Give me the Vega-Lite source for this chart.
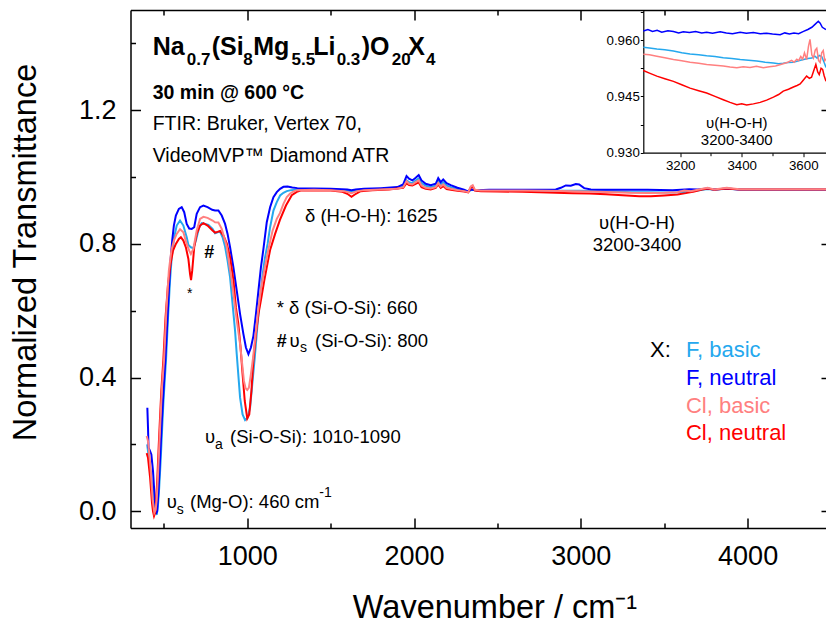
{
  "$schema": "https://vega.github.io/schema/vega-lite/v6.json",
  "width": 695.5,
  "height": 518,
  "autosize": {"type": "none"},
  "padding": {"left": 130.5, "top": 10, "right": 0, "bottom": 96},
  "background": "white",
  "config": {
    "view": {"stroke": null},
    "font": "Liberation Sans",
    "axis": {"grid": false, "labelFont": "Liberation Sans", "titleFont": "Liberation Sans", "labelColor": "black", "titleColor": "black", "tickColor": "black", "domainColor": "black"},
    "text": {"font": "Liberation Sans", "color": "black"}
  },
  "datasets": {
    "spectra": [
      {"s":"Fb","w":400,"t":0.2},{"s":"Fb","w":410,"t":0.16},{"s":"Fb","w":420,"t":0.12},{"s":"Fb","w":430,"t":0.08},{"s":"Fb","w":440,"t":0.04},{"s":"Fb","w":450,"t":0.005},{"s":"Fb","w":457,"t":-0.011},{"s":"Fb","w":465,"t":0.02},{"s":"Fb","w":472,"t":0.07},{"s":"Fb","w":481,"t":0.153},{"s":"Fb","w":490,"t":0.25},{"s":"Fb","w":497,"t":0.323},{"s":"Fb","w":505,"t":0.39},{"s":"Fb","w":513,"t":0.453},{"s":"Fb","w":525,"t":0.58},{"s":"Fb","w":537,"t":0.69},{"s":"Fb","w":547,"t":0.76},{"s":"Fb","w":562,"t":0.82},{"s":"Fb","w":577,"t":0.855},{"s":"Fb","w":597,"t":0.87},{"s":"Fb","w":617,"t":0.855},{"s":"Fb","w":637,"t":0.82},{"s":"Fb","w":647,"t":0.797},{"s":"Fb","w":662,"t":0.79},{"s":"Fb","w":677,"t":0.787},{"s":"Fb","w":692,"t":0.81},{"s":"Fb","w":712,"t":0.85},{"s":"Fb","w":727,"t":0.862},{"s":"Fb","w":747,"t":0.86},{"s":"Fb","w":767,"t":0.857},{"s":"Fb","w":792,"t":0.845},{"s":"Fb","w":807,"t":0.832},{"s":"Fb","w":822,"t":0.835},{"s":"Fb","w":837,"t":0.837},{"s":"Fb","w":852,"t":0.82},{"s":"Fb","w":867,"t":0.792},{"s":"Fb","w":882,"t":0.75},{"s":"Fb","w":897,"t":0.7},{"s":"Fb","w":912,"t":0.62},{"s":"Fb","w":927,"t":0.54},{"s":"Fb","w":937,"t":0.47},{"s":"Fb","w":957,"t":0.34},{"s":"Fb","w":972,"t":0.29},{"s":"Fb","w":987,"t":0.273},{"s":"Fb","w":1002,"t":0.28},{"s":"Fb","w":1017,"t":0.31},{"s":"Fb","w":1030,"t":0.38},{"s":"Fb","w":1045,"t":0.46},{"s":"Fb","w":1060,"t":0.55},{"s":"Fb","w":1075,"t":0.63},{"s":"Fb","w":1090,"t":0.7},{"s":"Fb","w":1105,"t":0.755},{"s":"Fb","w":1122,"t":0.8},{"s":"Fb","w":1137,"t":0.85},{"s":"Fb","w":1157,"t":0.9},{"s":"Fb","w":1177,"t":0.925},{"s":"Fb","w":1197,"t":0.945},{"s":"Fb","w":1217,"t":0.953},{"s":"Fb","w":1237,"t":0.958},{"s":"Fb","w":1262,"t":0.961},{"s":"Fb","w":1300,"t":0.962},{"s":"Fb","w":1400,"t":0.963},{"s":"Fb","w":1500,"t":0.963},{"s":"Fb","w":1600,"t":0.96},{"s":"Fb","w":1625,"t":0.957},{"s":"Fb","w":1650,"t":0.96},{"s":"Fb","w":1700,"t":0.962},{"s":"Fb","w":1800,"t":0.964},{"s":"Fb","w":1900,"t":0.966},{"s":"Fb","w":1935,"t":0.972},{"s":"Fb","w":1955,"t":0.99},{"s":"Fb","w":1970,"t":0.985},{"s":"Fb","w":1990,"t":0.982},{"s":"Fb","w":2010,"t":0.99},{"s":"Fb","w":2028,"t":0.996},{"s":"Fb","w":2045,"t":0.982},{"s":"Fb","w":2070,"t":0.974},{"s":"Fb","w":2100,"t":0.97},{"s":"Fb","w":2130,"t":0.974},{"s":"Fb","w":2145,"t":0.988},{"s":"Fb","w":2160,"t":0.978},{"s":"Fb","w":2175,"t":0.985},{"s":"Fb","w":2195,"t":0.975},{"s":"Fb","w":2220,"t":0.97},{"s":"Fb","w":2260,"t":0.964},{"s":"Fb","w":2300,"t":0.96},{"s":"Fb","w":2320,"t":0.956},{"s":"Fb","w":2345,"t":0.962},{"s":"Fb","w":2380,"t":0.96},{"s":"Fb","w":2450,"t":0.96},{"s":"Fb","w":2600,"t":0.96},{"s":"Fb","w":2750,"t":0.96},{"s":"Fb","w":2900,"t":0.959},{"s":"Fb","w":3000,"t":0.959},{"s":"Fb","w":3100,"t":0.958},{"s":"Fb","w":3200,"t":0.957},{"s":"Fb","w":3300,"t":0.955},{"s":"Fb","w":3400,"t":0.9545},{"s":"Fb","w":3500,"t":0.954},{"s":"Fb","w":3600,"t":0.9548},{"s":"Fb","w":3650,"t":0.956},{"s":"Fb","w":3700,"t":0.96},{"s":"Fb","w":3760,"t":0.964},{"s":"Fb","w":3800,"t":0.962},{"s":"Fb","w":3875,"t":0.965},{"s":"Fb","w":3950,"t":0.963},{"s":"Fb","w":4100,"t":0.963},{"s":"Fb","w":4300,"t":0.963},{"s":"Fb","w":4470,"t":0.963},

      {"s":"Fn","w":401,"t":0.31},{"s":"Fn","w":405,"t":0.25},{"s":"Fn","w":408,"t":0.19},{"s":"Fn","w":415,"t":0.183},{"s":"Fn","w":425,"t":0.17},{"s":"Fn","w":435,"t":0.12},{"s":"Fn","w":445,"t":0.04},{"s":"Fn","w":453,"t":-0.008},{"s":"Fn","w":460,"t":0.0},{"s":"Fn","w":468,"t":0.06},{"s":"Fn","w":477,"t":0.153},{"s":"Fn","w":487,"t":0.26},{"s":"Fn","w":497,"t":0.353},{"s":"Fn","w":509,"t":0.453},{"s":"Fn","w":520,"t":0.56},{"s":"Fn","w":530,"t":0.66},{"s":"Fn","w":540,"t":0.75},{"s":"Fn","w":550,"t":0.81},{"s":"Fn","w":560,"t":0.855},{"s":"Fn","w":572,"t":0.885},{"s":"Fn","w":590,"t":0.905},{"s":"Fn","w":607,"t":0.91},{"s":"Fn","w":622,"t":0.895},{"s":"Fn","w":637,"t":0.86},{"s":"Fn","w":652,"t":0.846},{"s":"Fn","w":667,"t":0.845},{"s":"Fn","w":682,"t":0.85},{"s":"Fn","w":697,"t":0.89},{"s":"Fn","w":717,"t":0.91},{"s":"Fn","w":737,"t":0.915},{"s":"Fn","w":762,"t":0.91},{"s":"Fn","w":790,"t":0.902},{"s":"Fn","w":807,"t":0.9},{"s":"Fn","w":827,"t":0.9},{"s":"Fn","w":847,"t":0.885},{"s":"Fn","w":867,"t":0.86},{"s":"Fn","w":882,"t":0.83},{"s":"Fn","w":897,"t":0.79},{"s":"Fn","w":917,"t":0.73},{"s":"Fn","w":937,"t":0.66},{"s":"Fn","w":957,"t":0.59},{"s":"Fn","w":977,"t":0.53},{"s":"Fn","w":992,"t":0.49},{"s":"Fn","w":1007,"t":0.47},{"s":"Fn","w":1022,"t":0.49},{"s":"Fn","w":1037,"t":0.525},{"s":"Fn","w":1052,"t":0.59},{"s":"Fn","w":1067,"t":0.66},{"s":"Fn","w":1082,"t":0.73},{"s":"Fn","w":1097,"t":0.785},{"s":"Fn","w":1117,"t":0.865},{"s":"Fn","w":1137,"t":0.91},{"s":"Fn","w":1157,"t":0.94},{"s":"Fn","w":1177,"t":0.955},{"s":"Fn","w":1197,"t":0.965},{"s":"Fn","w":1217,"t":0.971},{"s":"Fn","w":1242,"t":0.972},{"s":"Fn","w":1270,"t":0.969},{"s":"Fn","w":1300,"t":0.967},{"s":"Fn","w":1350,"t":0.966},{"s":"Fn","w":1400,"t":0.966},{"s":"Fn","w":1500,"t":0.965},{"s":"Fn","w":1600,"t":0.963},{"s":"Fn","w":1625,"t":0.961},{"s":"Fn","w":1650,"t":0.963},{"s":"Fn","w":1700,"t":0.965},{"s":"Fn","w":1800,"t":0.967},{"s":"Fn","w":1900,"t":0.97},{"s":"Fn","w":1935,"t":0.978},{"s":"Fn","w":1955,"t":1.003},{"s":"Fn","w":1970,"t":0.995},{"s":"Fn","w":1990,"t":0.99},{"s":"Fn","w":2010,"t":0.998},{"s":"Fn","w":2028,"t":1.006},{"s":"Fn","w":2045,"t":0.99},{"s":"Fn","w":2070,"t":0.98},{"s":"Fn","w":2100,"t":0.976},{"s":"Fn","w":2130,"t":0.98},{"s":"Fn","w":2145,"t":0.997},{"s":"Fn","w":2160,"t":0.985},{"s":"Fn","w":2175,"t":0.993},{"s":"Fn","w":2195,"t":0.982},{"s":"Fn","w":2220,"t":0.976},{"s":"Fn","w":2260,"t":0.968},{"s":"Fn","w":2300,"t":0.962},{"s":"Fn","w":2320,"t":0.958},{"s":"Fn","w":2345,"t":0.963},{"s":"Fn","w":2380,"t":0.961},{"s":"Fn","w":2450,"t":0.962},{"s":"Fn","w":2600,"t":0.962},{"s":"Fn","w":2750,"t":0.962},{"s":"Fn","w":2850,"t":0.963},{"s":"Fn","w":2880,"t":0.968},{"s":"Fn","w":2910,"t":0.975},{"s":"Fn","w":2940,"t":0.974},{"s":"Fn","w":2970,"t":0.979},{"s":"Fn","w":2990,"t":0.978},{"s":"Fn","w":3020,"t":0.967},{"s":"Fn","w":3060,"t":0.963},{"s":"Fn","w":3100,"t":0.962},{"s":"Fn","w":3250,"t":0.962},{"s":"Fn","w":3400,"t":0.962},{"s":"Fn","w":3550,"t":0.961},{"s":"Fn","w":3650,"t":0.964},{"s":"Fn","w":3700,"t":0.963},{"s":"Fn","w":3760,"t":0.966},{"s":"Fn","w":3800,"t":0.963},{"s":"Fn","w":3875,"t":0.966},{"s":"Fn","w":3950,"t":0.963},{"s":"Fn","w":4100,"t":0.963},{"s":"Fn","w":4300,"t":0.963},{"s":"Fn","w":4470,"t":0.963},

      {"s":"Cn","w":397,"t":0.174},{"s":"Cn","w":405,"t":0.16},{"s":"Cn","w":417,"t":0.104},{"s":"Cn","w":429,"t":0.024},{"s":"Cn","w":435,"t":0.0},{"s":"Cn","w":441,"t":-0.014},{"s":"Cn","w":447,"t":-0.005},{"s":"Cn","w":453,"t":0.024},{"s":"Cn","w":461,"t":0.1},{"s":"Cn","w":469,"t":0.194},{"s":"Cn","w":477,"t":0.28},{"s":"Cn","w":485,"t":0.363},{"s":"Cn","w":497,"t":0.453},{"s":"Cn","w":510,"t":0.58},{"s":"Cn","w":525,"t":0.68},{"s":"Cn","w":540,"t":0.74},{"s":"Cn","w":555,"t":0.78},{"s":"Cn","w":572,"t":0.8},{"s":"Cn","w":590,"t":0.815},{"s":"Cn","w":602,"t":0.82},{"s":"Cn","w":617,"t":0.81},{"s":"Cn","w":632,"t":0.79},{"s":"Cn","w":647,"t":0.755},{"s":"Cn","w":657,"t":0.71},{"s":"Cn","w":663,"t":0.692},{"s":"Cn","w":670,"t":0.72},{"s":"Cn","w":682,"t":0.79},{"s":"Cn","w":697,"t":0.83},{"s":"Cn","w":717,"t":0.855},{"s":"Cn","w":737,"t":0.862},{"s":"Cn","w":762,"t":0.855},{"s":"Cn","w":792,"t":0.84},{"s":"Cn","w":807,"t":0.834},{"s":"Cn","w":822,"t":0.836},{"s":"Cn","w":837,"t":0.839},{"s":"Cn","w":857,"t":0.825},{"s":"Cn","w":877,"t":0.802},{"s":"Cn","w":897,"t":0.76},{"s":"Cn","w":917,"t":0.692},{"s":"Cn","w":932,"t":0.61},{"s":"Cn","w":946,"t":0.563},{"s":"Cn","w":960,"t":0.49},{"s":"Cn","w":972,"t":0.41},{"s":"Cn","w":985,"t":0.33},{"s":"Cn","w":1000,"t":0.278},{"s":"Cn","w":1012,"t":0.29},{"s":"Cn","w":1025,"t":0.36},{"s":"Cn","w":1037,"t":0.453},{"s":"Cn","w":1052,"t":0.53},{"s":"Cn","w":1067,"t":0.59},{"s":"Cn","w":1085,"t":0.64},{"s":"Cn","w":1102,"t":0.69},{"s":"Cn","w":1117,"t":0.73},{"s":"Cn","w":1137,"t":0.782},{"s":"Cn","w":1167,"t":0.83},{"s":"Cn","w":1196,"t":0.872},{"s":"Cn","w":1232,"t":0.915},{"s":"Cn","w":1267,"t":0.946},{"s":"Cn","w":1297,"t":0.956},{"s":"Cn","w":1320,"t":0.96},{"s":"Cn","w":1400,"t":0.961},{"s":"Cn","w":1500,"t":0.96},{"s":"Cn","w":1570,"t":0.956},{"s":"Cn","w":1600,"t":0.95},{"s":"Cn","w":1625,"t":0.941},{"s":"Cn","w":1645,"t":0.948},{"s":"Cn","w":1680,"t":0.958},{"s":"Cn","w":1750,"t":0.961},{"s":"Cn","w":1850,"t":0.963},{"s":"Cn","w":1935,"t":0.968},{"s":"Cn","w":1955,"t":0.982},{"s":"Cn","w":1970,"t":0.976},{"s":"Cn","w":1990,"t":0.975},{"s":"Cn","w":2010,"t":0.98},{"s":"Cn","w":2028,"t":0.984},{"s":"Cn","w":2045,"t":0.97},{"s":"Cn","w":2070,"t":0.965},{"s":"Cn","w":2100,"t":0.963},{"s":"Cn","w":2130,"t":0.968},{"s":"Cn","w":2145,"t":0.978},{"s":"Cn","w":2160,"t":0.968},{"s":"Cn","w":2175,"t":0.973},{"s":"Cn","w":2195,"t":0.964},{"s":"Cn","w":2220,"t":0.962},{"s":"Cn","w":2260,"t":0.959},{"s":"Cn","w":2300,"t":0.957},{"s":"Cn","w":2325,"t":0.954},{"s":"Cn","w":2340,"t":0.968},{"s":"Cn","w":2352,"t":0.972},{"s":"Cn","w":2365,"t":0.96},{"s":"Cn","w":2400,"t":0.958},{"s":"Cn","w":2500,"t":0.957},{"s":"Cn","w":2650,"t":0.956},{"s":"Cn","w":2800,"t":0.954},{"s":"Cn","w":2950,"t":0.952},{"s":"Cn","w":3050,"t":0.951},{"s":"Cn","w":3150,"t":0.949},{"s":"Cn","w":3250,"t":0.946},{"s":"Cn","w":3350,"t":0.943},{"s":"Cn","w":3420,"t":0.9425},{"s":"Cn","w":3500,"t":0.945},{"s":"Cn","w":3580,"t":0.948},{"s":"Cn","w":3630,"t":0.952},{"s":"Cn","w":3680,"t":0.957},{"s":"Cn","w":3720,"t":0.962},{"s":"Cn","w":3760,"t":0.966},{"s":"Cn","w":3800,"t":0.962},{"s":"Cn","w":3875,"t":0.966},{"s":"Cn","w":3950,"t":0.963},{"s":"Cn","w":4100,"t":0.963},{"s":"Cn","w":4300,"t":0.963},{"s":"Cn","w":4470,"t":0.963},

      {"s":"Cb","w":397,"t":0.225},{"s":"Cb","w":405,"t":0.21},{"s":"Cb","w":413,"t":0.17},{"s":"Cb","w":421,"t":0.124},{"s":"Cb","w":433,"t":0.034},{"s":"Cb","w":443,"t":-0.004},{"s":"Cb","w":451,"t":0.005},{"s":"Cb","w":457,"t":0.034},{"s":"Cb","w":465,"t":0.11},{"s":"Cb","w":473,"t":0.204},{"s":"Cb","w":481,"t":0.29},{"s":"Cb","w":489,"t":0.373},{"s":"Cb","w":501,"t":0.453},{"s":"Cb","w":515,"t":0.6},{"s":"Cb","w":530,"t":0.72},{"s":"Cb","w":545,"t":0.78},{"s":"Cb","w":560,"t":0.81},{"s":"Cb","w":577,"t":0.83},{"s":"Cb","w":597,"t":0.844},{"s":"Cb","w":617,"t":0.835},{"s":"Cb","w":637,"t":0.8},{"s":"Cb","w":652,"t":0.78},{"s":"Cb","w":662,"t":0.77},{"s":"Cb","w":677,"t":0.785},{"s":"Cb","w":697,"t":0.84},{"s":"Cb","w":717,"t":0.875},{"s":"Cb","w":737,"t":0.881},{"s":"Cb","w":762,"t":0.878},{"s":"Cb","w":792,"t":0.87},{"s":"Cb","w":807,"t":0.865},{"s":"Cb","w":827,"t":0.864},{"s":"Cb","w":847,"t":0.845},{"s":"Cb","w":867,"t":0.81},{"s":"Cb","w":877,"t":0.792},{"s":"Cb","w":892,"t":0.74},{"s":"Cb","w":907,"t":0.692},{"s":"Cb","w":922,"t":0.63},{"s":"Cb","w":937,"t":0.572},{"s":"Cb","w":957,"t":0.5},{"s":"Cb","w":967,"t":0.453},{"s":"Cb","w":980,"t":0.39},{"s":"Cb","w":990,"t":0.368},{"s":"Cb","w":1000,"t":0.363},{"s":"Cb","w":1010,"t":0.37},{"s":"Cb","w":1022,"t":0.41},{"s":"Cb","w":1035,"t":0.46},{"s":"Cb","w":1050,"t":0.53},{"s":"Cb","w":1065,"t":0.6},{"s":"Cb","w":1082,"t":0.665},{"s":"Cb","w":1102,"t":0.72},{"s":"Cb","w":1126,"t":0.782},{"s":"Cb","w":1152,"t":0.84},{"s":"Cb","w":1177,"t":0.875},{"s":"Cb","w":1196,"t":0.892},{"s":"Cb","w":1217,"t":0.92},{"s":"Cb","w":1237,"t":0.94},{"s":"Cb","w":1257,"t":0.951},{"s":"Cb","w":1282,"t":0.958},{"s":"Cb","w":1300,"t":0.961},{"s":"Cb","w":1400,"t":0.962},{"s":"Cb","w":1500,"t":0.961},{"s":"Cb","w":1580,"t":0.958},{"s":"Cb","w":1625,"t":0.952},{"s":"Cb","w":1660,"t":0.958},{"s":"Cb","w":1700,"t":0.961},{"s":"Cb","w":1800,"t":0.963},{"s":"Cb","w":1900,"t":0.965},{"s":"Cb","w":1935,"t":0.97},{"s":"Cb","w":1955,"t":0.988},{"s":"Cb","w":1970,"t":0.98},{"s":"Cb","w":1990,"t":0.978},{"s":"Cb","w":2010,"t":0.985},{"s":"Cb","w":2028,"t":0.99},{"s":"Cb","w":2045,"t":0.975},{"s":"Cb","w":2070,"t":0.968},{"s":"Cb","w":2100,"t":0.966},{"s":"Cb","w":2130,"t":0.97},{"s":"Cb","w":2145,"t":0.982},{"s":"Cb","w":2160,"t":0.972},{"s":"Cb","w":2175,"t":0.978},{"s":"Cb","w":2195,"t":0.968},{"s":"Cb","w":2220,"t":0.965},{"s":"Cb","w":2260,"t":0.961},{"s":"Cb","w":2300,"t":0.958},{"s":"Cb","w":2325,"t":0.955},{"s":"Cb","w":2340,"t":0.972},{"s":"Cb","w":2352,"t":0.976},{"s":"Cb","w":2365,"t":0.962},{"s":"Cb","w":2400,"t":0.96},{"s":"Cb","w":2500,"t":0.96},{"s":"Cb","w":2650,"t":0.96},{"s":"Cb","w":2800,"t":0.959},{"s":"Cb","w":2950,"t":0.958},{"s":"Cb","w":3100,"t":0.956},{"s":"Cb","w":3200,"t":0.955},{"s":"Cb","w":3300,"t":0.953},{"s":"Cb","w":3400,"t":0.9527},{"s":"Cb","w":3500,"t":0.953},{"s":"Cb","w":3580,"t":0.955},{"s":"Cb","w":3620,"t":0.96},{"s":"Cb","w":3660,"t":0.958},{"s":"Cb","w":3700,"t":0.962},{"s":"Cb","w":3760,"t":0.968},{"s":"Cb","w":3800,"t":0.963},{"s":"Cb","w":3875,"t":0.968},{"s":"Cb","w":3950,"t":0.964},{"s":"Cb","w":4100,"t":0.964},{"s":"Cb","w":4300,"t":0.964},{"s":"Cb","w":4470,"t":0.964}
    ],
    "inset": [
      {"s":"Fb","w":3080,"t":0.9581},{"s":"Fb","w":3100,"t":0.9579},{"s":"Fb","w":3124,"t":0.9576},{"s":"Fb","w":3150,"t":0.9574},{"s":"Fb","w":3178,"t":0.9571},{"s":"Fb","w":3205,"t":0.9566},{"s":"Fb","w":3232,"t":0.9563},{"s":"Fb","w":3260,"t":0.9561},{"s":"Fb","w":3286,"t":0.9558},{"s":"Fb","w":3313,"t":0.9556},{"s":"Fb","w":3340,"t":0.9553},{"s":"Fb","w":3368,"t":0.9551},{"s":"Fb","w":3395,"t":0.9548},{"s":"Fb","w":3422,"t":0.9546},{"s":"Fb","w":3449,"t":0.9544},{"s":"Fb","w":3476,"t":0.9541},{"s":"Fb","w":3503,"t":0.9539},{"s":"Fb","w":3520,"t":0.9537},{"s":"Fb","w":3535,"t":0.9538},{"s":"Fb","w":3550,"t":0.954},{"s":"Fb","w":3568,"t":0.9541},{"s":"Fb","w":3585,"t":0.9545},{"s":"Fb","w":3601,"t":0.9548},{"s":"Fb","w":3615,"t":0.9551},{"s":"Fb","w":3628,"t":0.9552},{"s":"Fb","w":3638,"t":0.9557},{"s":"Fb","w":3645,"t":0.9552},{"s":"Fb","w":3652,"t":0.9559},{"s":"Fb","w":3660,"t":0.9556},{"s":"Fb","w":3668,"t":0.954},{"s":"Fb","w":3674,"t":0.9527},
      {"s":"Fn","w":3080,"t":0.9624},{"s":"Fn","w":3095,"t":0.9628},{"s":"Fn","w":3110,"t":0.9623},{"s":"Fn","w":3125,"t":0.9626},{"s":"Fn","w":3140,"t":0.9621},{"s":"Fn","w":3160,"t":0.9625},{"s":"Fn","w":3178,"t":0.9623},{"s":"Fn","w":3195,"t":0.9619},{"s":"Fn","w":3210,"t":0.9622},{"s":"Fn","w":3230,"t":0.962},{"s":"Fn","w":3250,"t":0.9623},{"s":"Fn","w":3270,"t":0.9619},{"s":"Fn","w":3286,"t":0.9621},{"s":"Fn","w":3305,"t":0.9618},{"s":"Fn","w":3330,"t":0.9622},{"s":"Fn","w":3350,"t":0.9619},{"s":"Fn","w":3370,"t":0.9617},{"s":"Fn","w":3395,"t":0.9621},{"s":"Fn","w":3415,"t":0.9618},{"s":"Fn","w":3438,"t":0.962},{"s":"Fn","w":3460,"t":0.9617},{"s":"Fn","w":3481,"t":0.9618},{"s":"Fn","w":3500,"t":0.9616},{"s":"Fn","w":3525,"t":0.9614},{"s":"Fn","w":3540,"t":0.9619},{"s":"Fn","w":3555,"t":0.9616},{"s":"Fn","w":3570,"t":0.9619},{"s":"Fn","w":3585,"t":0.9617},{"s":"Fn","w":3601,"t":0.9623},{"s":"Fn","w":3615,"t":0.9628},{"s":"Fn","w":3628,"t":0.9634},{"s":"Fn","w":3640,"t":0.9643},{"s":"Fn","w":3649,"t":0.965},{"s":"Fn","w":3655,"t":0.9645},{"s":"Fn","w":3662,"t":0.9634},{"s":"Fn","w":3674,"t":0.9628},
      {"s":"Cn","w":3080,"t":0.9519},{"s":"Cn","w":3100,"t":0.9512},{"s":"Cn","w":3124,"t":0.9504},{"s":"Cn","w":3150,"t":0.9497},{"s":"Cn","w":3178,"t":0.949},{"s":"Cn","w":3205,"t":0.9481},{"s":"Cn","w":3232,"t":0.9472},{"s":"Cn","w":3260,"t":0.9465},{"s":"Cn","w":3286,"t":0.9459},{"s":"Cn","w":3313,"t":0.945},{"s":"Cn","w":3340,"t":0.9441},{"s":"Cn","w":3362,"t":0.9434},{"s":"Cn","w":3384,"t":0.9428},{"s":"Cn","w":3400,"t":0.943},{"s":"Cn","w":3416,"t":0.9427},{"s":"Cn","w":3438,"t":0.943},{"s":"Cn","w":3460,"t":0.9434},{"s":"Cn","w":3481,"t":0.944},{"s":"Cn","w":3503,"t":0.9448},{"s":"Cn","w":3520,"t":0.9455},{"s":"Cn","w":3535,"t":0.9464},{"s":"Cn","w":3552,"t":0.9469},{"s":"Cn","w":3568,"t":0.9475},{"s":"Cn","w":3580,"t":0.9479},{"s":"Cn","w":3590,"t":0.9483},{"s":"Cn","w":3600,"t":0.9493},{"s":"Cn","w":3611,"t":0.9504},{"s":"Cn","w":3620,"t":0.9498},{"s":"Cn","w":3627,"t":0.9501},{"s":"Cn","w":3634,"t":0.9518},{"s":"Cn","w":3641,"t":0.9535},{"s":"Cn","w":3647,"t":0.9515},{"s":"Cn","w":3652,"t":0.9508},{"s":"Cn","w":3658,"t":0.9525},{"s":"Cn","w":3663,"t":0.9522},{"s":"Cn","w":3668,"t":0.9505},{"s":"Cn","w":3674,"t":0.949},
      {"s":"Cb","w":3080,"t":0.9562},{"s":"Cb","w":3100,"t":0.9561},{"s":"Cb","w":3124,"t":0.9557},{"s":"Cb","w":3150,"t":0.9553},{"s":"Cb","w":3178,"t":0.9548},{"s":"Cb","w":3205,"t":0.9545},{"s":"Cb","w":3232,"t":0.9541},{"s":"Cb","w":3260,"t":0.9538},{"s":"Cb","w":3286,"t":0.9535},{"s":"Cb","w":3313,"t":0.9533},{"s":"Cb","w":3340,"t":0.9531},{"s":"Cb","w":3362,"t":0.9528},{"s":"Cb","w":3384,"t":0.9526},{"s":"Cb","w":3405,"t":0.9529},{"s":"Cb","w":3427,"t":0.9527},{"s":"Cb","w":3448,"t":0.953},{"s":"Cb","w":3470,"t":0.9526},{"s":"Cb","w":3490,"t":0.9529},{"s":"Cb","w":3510,"t":0.9531},{"s":"Cb","w":3535,"t":0.9537},{"s":"Cb","w":3550,"t":0.9541},{"s":"Cb","w":3562,"t":0.9546},{"s":"Cb","w":3570,"t":0.9541},{"s":"Cb","w":3579,"t":0.9549},{"s":"Cb","w":3585,"t":0.9545},{"s":"Cb","w":3592,"t":0.9556},{"s":"Cb","w":3598,"t":0.9549},{"s":"Cb","w":3604,"t":0.9566},{"s":"Cb","w":3611,"t":0.9548},{"s":"Cb","w":3617,"t":0.9583},{"s":"Cb","w":3622,"t":0.9602},{"s":"Cb","w":3628,"t":0.956},{"s":"Cb","w":3633,"t":0.9552},{"s":"Cb","w":3639,"t":0.9573},{"s":"Cb","w":3644,"t":0.9578},{"s":"Cb","w":3650,"t":0.9545},{"s":"Cb","w":3655,"t":0.954},{"s":"Cb","w":3660,"t":0.9566},{"s":"Cb","w":3665,"t":0.9572},{"s":"Cb","w":3670,"t":0.9545},{"s":"Cb","w":3674,"t":0.955}
    ]
  },
  "layer": [
    {
      "layer": [
        {
          "data": {"name": "spectra"},
          "mark": {"type": "line", "strokeWidth": 2},
          "encoding": {
            "x": {"field": "w", "type": "quantitative", "scale": {"domain": [300, 4470], "nice": false, "zero": false},
              "axis": {"orient": "bottom", "values": [1000, 2000, 3000, 4000], "format": "d", "tickSize": -10, "tickWidth": 1.5, "domainWidth": 1.5, "labelFontSize": 27, "labelPadding": 25, "labelFlush": false, "labelOverlap": false,
                "title": "Wavenumber / cm⁻¹", "titleFontSize": 32.5, "titleFontWeight": "normal", "titleX": 364, "titleY": 89, "titleAlign": "center", "titleBaseline": "alphabetic"}},
            "y": {"field": "t", "type": "quantitative", "scale": {"domain": [-0.05, 1.5], "nice": false, "zero": false},
              "axis": {"orient": "left", "values": [0, 0.4, 0.8, 1.2], "format": ".1f", "tickSize": -10, "tickWidth": 1.5, "domainWidth": 1.5, "labelFontSize": 27, "labelPadding": 24.5, "labelFlush": false, "labelOverlap": false,
                "title": "Normalized Transmittance", "titleFontSize": 32.5, "titleFontWeight": "normal", "titleX": -95.5, "titleY": 242, "titleAngle": -90, "titleAlign": "center", "titleBaseline": "alphabetic"}},
            "color": {"field": "s", "type": "nominal", "scale": {"domain": ["Fb", "Fn", "Cb", "Cn", "X"], "range": ["#25a8ee", "#0000ff", "#ff8080", "#ff0000", "#000000"]}, "legend": null}
          }
        },
        {
          "data": {"values": [
            {"label": "δ (H-O-H): 1625", "w": 1346, "t": 0.8665},
            {"label": "* δ (Si-O-Si): 660", "w": 1176.6, "t": 0.5894},
            {"label": "υ", "w": 1253, "t": 0.4925},
            {"label": "(Si-O-Si): 800", "w": 1406.2, "t": 0.4925},
            {"label": "υ", "w": 746.7, "t": 0.2052},
            {"label": "(Si-O-Si): 1010-1090", "w": 896.6, "t": 0.2052},
            {"label": "υ", "w": 517, "t": 0.0089},
            {"label": "(Mg-O): 460 cm", "w": 656.7, "t": 0.0089}
          ]},
          "mark": {"type": "text", "align": "left", "baseline": "alphabetic", "fontSize": 18.5},
          "encoding": {
            "x": {"field": "w", "type": "quantitative", "scale": {"domain": [300, 4470], "nice": false, "zero": false},
              "axis": {"orient": "bottom", "values": [500, 1500, 2500, 3500], "tickSize": -5, "tickWidth": 1.5, "domain": false, "labels": false, "title": null}},
            "y": {"field": "t", "type": "quantitative", "scale": {"domain": [-0.05, 1.5], "nice": false, "zero": false},
              "axis": {"orient": "left", "values": [0.2, 0.6, 1.0, 1.4], "tickSize": -5, "tickWidth": 1.5, "domain": false, "labels": false, "title": null}},
            "text": {"field": "label"}
          }
        },
        {
          "data": {"values": [
            {"label": "FTIR: Bruker, Vertex 70,", "w": 433, "t": 1.1409},
            {"label": "VideoMVP™ Diamond ATR", "w": 433, "t": 1.0461}
          ]},
          "mark": {"type": "text", "align": "left", "baseline": "alphabetic", "fontSize": 19.5},
          "encoding": {
            "x": {"field": "w", "type": "quantitative", "scale": {"domain": [300, 4470], "nice": false, "zero": false},
              "axis": {"orient": "top", "values": [1000, 2000, 3000, 4000], "tickSize": -10, "tickWidth": 1.5, "domainWidth": 1.5, "labels": false, "title": null}},
            "y": {"field": "t", "type": "quantitative", "scale": {"domain": [-0.05, 1.5], "nice": false, "zero": false},
              "axis": {"orient": "right", "values": [0, 0.4, 0.8, 1.2], "tickSize": -5, "tickWidth": 1.5, "domain": false, "labels": false, "title": null}},
            "text": {"field": "label"}
          }
        },
        {
          "data": {"values": [
            {"label": "s", "w": 1316, "t": 0.4775},
            {"label": "a", "w": 806.6, "t": 0.1855},
            {"label": "s", "w": 577, "t": -0.0081},
            {"label": "-1", "w": 1432, "t": 0.0436},
            {"label": "*", "w": 638.7, "t": 0.6382}
          ]},
          "mark": {"type": "text", "align": "left", "baseline": "alphabetic", "fontSize": 14},
          "encoding": {
            "x": {"field": "w", "type": "quantitative", "scale": {"domain": [300, 4470], "nice": false, "zero": false},
              "axis": {"orient": "top", "values": [500, 1500, 2500, 3500], "tickSize": -5, "tickWidth": 1.5, "domain": false, "labels": false, "title": null}},
            "y": {"field": "t", "type": "quantitative", "scale": {"domain": [-0.05, 1.5], "nice": false, "zero": false}, "axis": null},
            "text": {"field": "label"}
          }
        },
        {
          "data": {"values": [
            {"label": "υ(H-O-H)", "w": 3337, "t": 0.8626},
            {"label": "3200-3400", "w": 3337, "t": 0.7968}
          ]},
          "mark": {"type": "text", "align": "center", "baseline": "middle", "fontSize": 18.5},
          "encoding": {
            "x": {"field": "w", "type": "quantitative", "scale": {"domain": [300, 4470], "nice": false, "zero": false}, "axis": null},
            "y": {"field": "t", "type": "quantitative", "scale": {"domain": [-0.05, 1.5], "nice": false, "zero": false}, "axis": null},
            "text": {"field": "label"}
          }
        },
        {
          "data": {"values": [
            {"label": "30 min @ 600 °C", "w": 433, "t": 1.2328}
          ]},
          "mark": {"type": "text", "align": "left", "baseline": "alphabetic", "fontSize": 19.5, "fontWeight": "bold"},
          "encoding": {
            "x": {"field": "w", "type": "quantitative", "scale": {"domain": [300, 4470], "nice": false, "zero": false}, "axis": null},
            "y": {"field": "t", "type": "quantitative", "scale": {"domain": [-0.05, 1.5], "nice": false, "zero": false}, "axis": null},
            "text": {"field": "label"}
          }
        },
        {
          "data": {"values": [
            {"label": "#", "w": 1176.6, "t": 0.4925},
            {"label": "#", "w": 742.5, "t": 0.7573}
          ]},
          "mark": {"type": "text", "align": "left", "baseline": "alphabetic", "fontSize": 18, "fontWeight": "bold"},
          "encoding": {
            "x": {"field": "w", "type": "quantitative", "scale": {"domain": [300, 4470], "nice": false, "zero": false}, "axis": null},
            "y": {"field": "t", "type": "quantitative", "scale": {"domain": [-0.05, 1.5], "nice": false, "zero": false}, "axis": null},
            "text": {"field": "label"}
          }
        },
        {
          "data": {"values": [
            {"label": "Na", "w": 433, "t": 1.3653},
            {"label": "(Si", "w": 787, "t": 1.3653},
            {"label": "Mg", "w": 1036, "t": 1.3653},
            {"label": "Li", "w": 1396, "t": 1.3653},
            {"label": ")O", "w": 1686, "t": 1.3653},
            {"label": "X", "w": 1966, "t": 1.3653}
          ]},
          "mark": {"type": "text", "align": "left", "baseline": "alphabetic", "fontSize": 25, "fontWeight": "bold"},
          "encoding": {
            "x": {"field": "w", "type": "quantitative", "scale": {"domain": [300, 4470], "nice": false, "zero": false}, "axis": null},
            "y": {"field": "t", "type": "quantitative", "scale": {"domain": [-0.05, 1.5], "nice": false, "zero": false}, "axis": null},
            "text": {"field": "label"}
          }
        },
        {
          "data": {"values": [
            {"label": "0.7", "w": 637, "t": 1.3354},
            {"label": "8", "w": 976, "t": 1.3354},
            {"label": "5.5", "w": 1266, "t": 1.3354},
            {"label": "0.3", "w": 1536, "t": 1.3354},
            {"label": "20", "w": 1866, "t": 1.3354},
            {"label": "4", "w": 2072, "t": 1.3354}
          ]},
          "mark": {"type": "text", "align": "left", "baseline": "alphabetic", "fontSize": 17, "fontWeight": "bold"},
          "encoding": {
            "x": {"field": "w", "type": "quantitative", "scale": {"domain": [300, 4470], "nice": false, "zero": false}, "axis": null},
            "y": {"field": "t", "type": "quantitative", "scale": {"domain": [-0.05, 1.5], "nice": false, "zero": false}, "axis": null},
            "text": {"field": "label"}
          }
        },
        {
          "data": {"values": [
            {"label": "X:", "s": "X", "w": 3414.7, "t": 0.4626},
            {"label": "F, basic", "s": "Fb", "w": 3630.5, "t": 0.4626},
            {"label": "F, neutral", "s": "Fn", "w": 3630.5, "t": 0.3779},
            {"label": "Cl, basic", "s": "Cb", "w": 3630.5, "t": 0.295},
            {"label": "Cl, neutral", "s": "Cn", "w": 3630.5, "t": 0.2133}
          ]},
          "mark": {"type": "text", "align": "left", "baseline": "alphabetic", "fontSize": 22},
          "encoding": {
            "x": {"field": "w", "type": "quantitative", "scale": {"domain": [300, 4470], "nice": false, "zero": false}, "axis": null},
            "y": {"field": "t", "type": "quantitative", "scale": {"domain": [-0.05, 1.5], "nice": false, "zero": false}, "axis": null},
            "color": {"field": "s", "type": "nominal", "scale": {"domain": ["Fb", "Fn", "Cb", "Cn", "X"], "range": ["#25a8ee", "#0000ff", "#ff8080", "#ff0000", "#000000"]}, "legend": null},
            "text": {"field": "label"}
          }
        }
      ],
      "resolve": {"axis": {"x": "independent", "y": "independent"}}
    },
    {
      "layer": [
        {
          "data": {"name": "inset"},
          "mark": {"type": "line", "strokeWidth": 1.5},
          "encoding": {
            "x": {"field": "w", "type": "quantitative", "scale": {"domain": [3080, 3674], "range": [512.8, 695.5], "nice": false, "zero": false},
              "axis": {"orient": "bottom", "offset": -375.3, "values": [3200, 3400, 3600], "format": "d", "tickSize": 4, "tickWidth": 1, "domainWidth": 1.2, "labelFontSize": 13.3, "labelPadding": 1.5, "labelFlush": false, "labelOverlap": false, "title": null}},
            "y": {"field": "t", "type": "quantitative", "scale": {"domain": [0.93, 0.968], "range": [142.7, 0], "nice": false, "zero": false},
              "axis": {"orient": "left", "offset": -512.8, "values": [0.93, 0.945, 0.96], "format": ".3f", "tickSize": 3, "tickWidth": 1, "domainWidth": 1.2, "labelFontSize": 13.3, "labelPadding": 1, "labelFlush": false, "labelOverlap": false, "title": null}},
            "color": {"field": "s", "type": "nominal", "scale": {"domain": ["Fb", "Fn", "Cb", "Cn", "X"], "range": ["#25a8ee", "#0000ff", "#ff8080", "#ff0000", "#000000"]}, "legend": null}
          }
        },
        {
          "data": {"values": [
            {"label": "υ(H-O-H)", "w": 3383.7, "t": 0.93658},
            {"label": "3200-3400", "w": 3383.7, "t": 0.93205}
          ]},
          "mark": {"type": "text", "align": "center", "baseline": "alphabetic", "fontSize": 15},
          "encoding": {
            "x": {"field": "w", "type": "quantitative", "scale": {"domain": [3080, 3674], "range": [512.8, 695.5], "nice": false, "zero": false},
              "axis": {"orient": "bottom", "offset": -375.3, "values": [3300, 3500], "tickSize": 3, "tickWidth": 1, "domain": false, "labels": false, "title": null}},
            "y": {"field": "t", "type": "quantitative", "scale": {"domain": [0.93, 0.968], "range": [142.7, 0], "nice": false, "zero": false},
              "axis": {"orient": "left", "offset": -512.8, "values": [0.9375, 0.9525, 0.9675], "tickSize": 3, "tickWidth": 1, "domain": false, "labels": false, "title": null}},
            "text": {"field": "label"}
          }
        }
      ],
      "resolve": {"axis": {"x": "independent", "y": "independent"}}
    }
  ],
  "resolve": {"scale": {"x": "independent", "y": "independent"}}
}
